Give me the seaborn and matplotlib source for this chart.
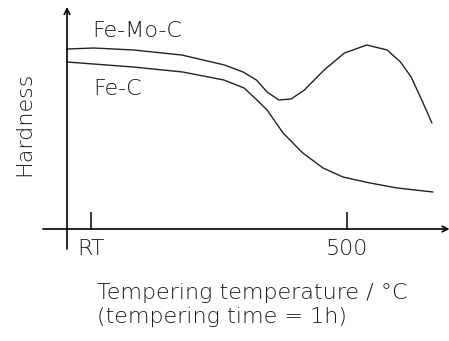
import pandas as pd
import matplotlib
matplotlib.use("Agg")
import matplotlib.pyplot as plt
import seaborn as sns

# schematic tempering curves (temperature in degC, hardness in arbitrary units)
temp_femoc = [-25, 25, 100, 190, 270, 305, 330, 350, 372, 395, 420, 457, 495, 537, 575, 600, 620, 640, 659]
hard_femoc = [18.0, 18.1, 17.9, 17.4, 16.4, 15.7, 14.9, 13.7, 12.9, 13.0, 13.9, 15.9, 17.6, 18.4, 17.9, 16.7, 15.2, 12.9, 10.6]

temp_fec = [-25, 99, 192, 269, 307, 331, 350, 380, 417, 455, 492, 543, 594, 661]
hard_fec = [16.7, 16.2, 15.7, 14.9, 14.1, 12.9, 11.9, 9.6, 7.6, 6.1, 5.2, 4.6, 4.1, 3.7]

tick_pos = [20, 500]
tick_labels = ["RT", "500"]

femoc = pd.DataFrame({"T": temp_femoc, "H": hard_femoc})
fec = pd.DataFrame({"T": temp_fec, "H": hard_fec})

sns.set_style("white")
plt.rcParams["font.family"] = ["DejaVu Sans"]
plt.rcParams["font.weight"] = "light"
plt.rcParams["text.color"] = "#1a1a1a"
plt.rcParams["xtick.color"] = "#1a1a1a"

fig = plt.figure(figsize=(4.49, 3.41), dpi=100)
ax = fig.add_axes([0, 0, 1, 1])

sns.lineplot(data=femoc, x="T", y="H", sort=False, color="#222222", lw=1.0, ax=ax)
sns.lineplot(data=fec, x="T", y="H", sort=False, color="#222222", lw=1.0, ax=ax)

ax.set_xlim(-150.6, 691)
ax.set_ylim(-11.2, 22.9)

# axes drawn as arrows
ax.annotate("", xy=(692, 0), xytext=(-70, 0), annotation_clip=False,
            arrowprops=dict(arrowstyle="->", lw=1.2, color="black", shrinkA=0, shrinkB=0))
ax.annotate("", xy=(-25, 22.2), xytext=(-25, -2.0), annotation_clip=False,
            arrowprops=dict(arrowstyle="->", lw=1.2, color="black", shrinkA=0, shrinkB=0))

for s in ax.spines.values():
    s.set_visible(False)
ax.spines["bottom"].set_position(("data", 0))
ax.set_xticks(tick_pos)
ax.set_xticklabels(tick_labels)
ax.set_yticks([])
ax.tick_params(axis="x", direction="in", length=12.5, width=1.1, color="black",
               pad=7, labelsize=16, bottom=True)
ax.set_xlabel("")
ax.set_ylabel("")

ax.text(22, 19.2, "Fe-Mo-C", fontsize=16, ha="left", va="baseline")
ax.text(24, 13.4, "Fe-C", fontsize=16, ha="left", va="baseline")
ax.text(-105.6, 10.5, "Hardness", fontsize=16, rotation=90, ha="center", va="center")
ax.text(31, -5.4, "Tempering temperature / °C\n(tempering time = 1h)", fontsize=16,
        ha="left", va="top", linespacing=1.25)

fig.savefig("out.png", dpi=100)
